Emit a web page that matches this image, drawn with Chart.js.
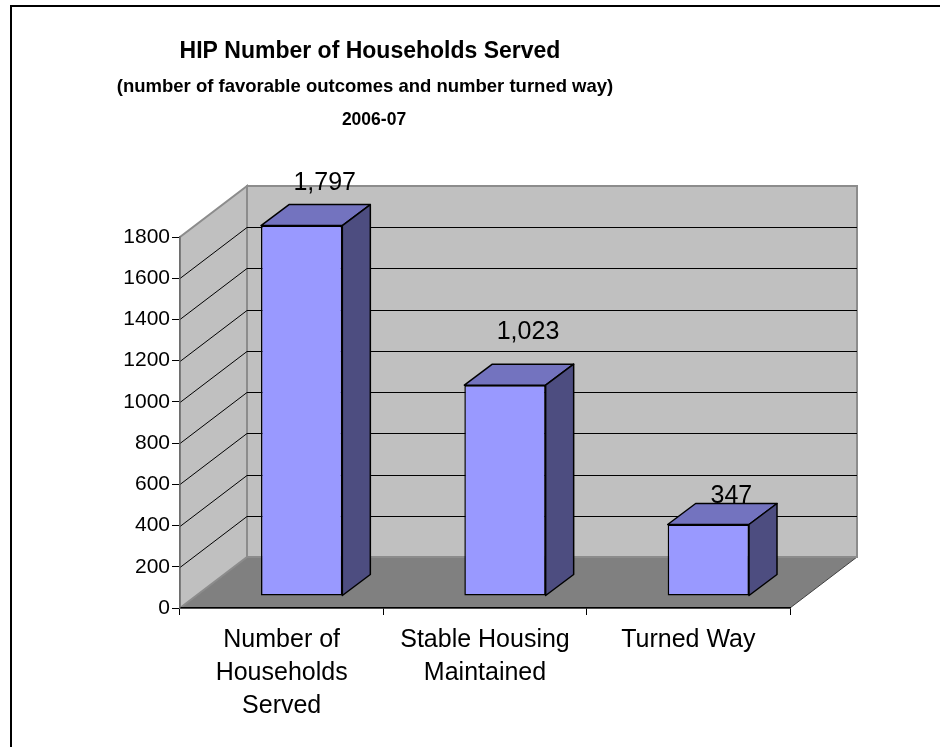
<!DOCTYPE html>
<html>
<head>
<meta charset="utf-8">
<title>HIP Number of Households Served</title>
<script src="https://cdn.jsdelivr.net/npm/chart.js@4.4.1/dist/chart.umd.min.js"></script>
<style>
  html, body { margin: 0; padding: 0; background: #fff; }
  canvas { display: block; }
</style>
</head>
<body>
<canvas id="myChart" width="940" height="747"></canvas>
<script>
'use strict';

const titleLines = [
  'HIP Number of Households Served',
  '(number of favorable outcomes and number turned way)',
  '2006-07'
];
const categories = [
  ['Number of', 'Households', 'Served'],
  ['Stable Housing', 'Maintained'],
  ['Turned Way']
];
const households = [1797, 1023, 347];
const yMin = 0;
const yMax = 1800;
const yStep = 200;

// how far each value label sits above its bar
const labelRise = [55, 65, 40];

const FONT = '"Liberation Sans", Arial, sans-serif';
const WALL_DX = 67, WALL_DY = -51;   // depth of the walls / floor
const BAR_SHIFT_X = 20, BAR_SHIFT_Y = -12; // bars stand a bit back from the front edge
const BAR_DX = 28, BAR_DY = -21;     // depth of each bar

const ctx = document.getElementById('myChart').getContext('2d');

function poly(c, pts, fill, stroke, width) {
  c.beginPath();
  c.moveTo(pts[0][0], pts[0][1]);
  for (let i = 1; i < pts.length; i++) c.lineTo(pts[i][0], pts[i][1]);
  c.closePath();
  if (fill) { c.fillStyle = fill; c.fill(); }
  if (stroke) { c.strokeStyle = stroke; c.lineWidth = width || 1; c.stroke(); }
}

const box3d = {
  id: 'box3d',
  beforeDraw(chart) {
    const c = chart.ctx;
    const a = chart.chartArea;
    const y = chart.scales.y;
    c.save();
    // floor
    poly(c, [[a.left, a.bottom], [a.right, a.bottom], [a.right + WALL_DX, a.bottom + WALL_DY], [a.left + WALL_DX, a.bottom + WALL_DY]], '#808080', '#404040', 1);
    // back wall
    poly(c, [[a.left + WALL_DX, a.top + WALL_DY], [a.right + WALL_DX, a.top + WALL_DY], [a.right + WALL_DX, a.bottom + WALL_DY], [a.left + WALL_DX, a.bottom + WALL_DY]], '#c0c0c0', '#8c8c8c', 2);
    // left wall
    poly(c, [[a.left, a.bottom], [a.left, a.top], [a.left + WALL_DX, a.top + WALL_DY], [a.left + WALL_DX, a.bottom + WALL_DY]], '#c0c0c0', '#8c8c8c', 2);
    // gridlines run along the left wall then across the back wall
    c.strokeStyle = '#000';
    c.lineWidth = 1;
    y.ticks.forEach(t => {
      if (t.value === yMin || t.value === yMax) return;
      const py = Math.round(y.getPixelForValue(t.value)) + 0.5;
      c.beginPath();
      c.moveTo(a.left, py);
      c.lineTo(a.left + WALL_DX, py + WALL_DY);
      c.lineTo(a.right + WALL_DX, py + WALL_DY);
      c.stroke();
    });
    c.restore();
  },
  beforeDatasetsDraw(chart) {
    chart.ctx.save();
    chart.ctx.translate(BAR_SHIFT_X, BAR_SHIFT_Y);
  },
  afterDatasetsDraw(chart) {
    const c = chart.ctx;
    const bars = chart.getDatasetMeta(0).data;
    c.lineJoin = 'round';
    bars.forEach(b => {
      const l = b.x - b.width / 2, r = b.x + b.width / 2;
      // top face
      poly(c, [[l, b.y], [r, b.y], [r + BAR_DX, b.y + BAR_DY], [l + BAR_DX, b.y + BAR_DY]], '#7373bf', '#000', 1.5);
      // side face
      poly(c, [[r, b.y], [r + BAR_DX, b.y + BAR_DY], [r + BAR_DX, b.base + BAR_DY], [r, b.base]], '#4d4d80', '#000', 1.5);
    });
    c.restore();

    // value labels
    c.save();
    c.font = '25px ' + FONT;
    c.fillStyle = '#000';
    c.textAlign = 'center';
    c.textBaseline = 'middle';
    bars.forEach((b, i) => {
      c.fillText(households[i].toLocaleString('en-US'), b.x + 43, b.y - labelRise[i]);
    });
    c.restore();
  },
  afterDraw(chart) {
    const c = chart.ctx;
    c.save();
    // outer frame
    c.strokeStyle = '#000';
    c.lineWidth = 2;
    c.beginPath();
    c.moveTo(11, 760);
    c.lineTo(11, 6);
    c.lineTo(960, 6);
    c.stroke();
    // titles
    c.fillStyle = '#000';
    c.textAlign = 'center';
    c.textBaseline = 'middle';
    c.font = 'bold 23px ' + FONT;
    c.fillText(titleLines[0], 370, 52);
    c.font = 'bold 18.5px ' + FONT;
    c.fillText(titleLines[1], 365, 87);
    c.font = 'bold 17.5px ' + FONT;
    c.fillText(titleLines[2], 374, 120);
    c.restore();
  }
};

new Chart(ctx, {
  type: 'bar',
  data: {
    labels: categories,
    datasets: [{
      data: households,
      backgroundColor: '#9999ff',
      borderColor: '#000',
      borderWidth: 1.5,
      borderSkipped: false,
      barPercentage: 0.4,
      categoryPercentage: 1,
      clip: false
    }]
  },
  options: {
    responsive: false,
    animation: false,
    devicePixelRatio: 1,
    layout: { padding: { left: 0, top: 237, right: 150, bottom: 0 } },
    plugins: {
      legend: { display: false },
      tooltip: { enabled: false }
    },
    scales: {
      x: {
        grid: { offset: true, drawOnChartArea: false, drawTicks: true, tickLength: 7, tickColor: '#000' },
        border: { color: '#000', width: 1.5 },
        ticks: { color: '#000', font: { family: FONT, size: 25, lineHeight: 1.32 }, padding: 9, maxRotation: 0 },
        afterFit(scale) { scale.height = 139; }
      },
      y: {
        min: yMin,
        max: yMax,
        grid: { drawOnChartArea: false, drawTicks: true, tickLength: 8, tickColor: '#000' },
        border: { color: '#6e6e6e', width: 1.5 },
        ticks: {
          stepSize: yStep,
          color: '#000',
          padding: 2,
          font: { family: FONT, size: 21 },
          callback: v => String(v)
        },
        afterFit(scale) { scale.width = 180; }
      }
    }
  },
  plugins: [box3d]
});
</script>
</body>
</html>
